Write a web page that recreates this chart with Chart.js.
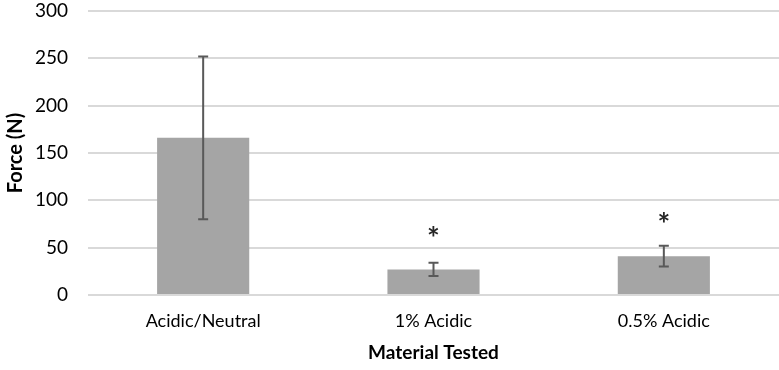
<!DOCTYPE html>
<html>
<head>
<meta charset="utf-8">
<script src="https://cdn.jsdelivr.net/npm/chart.js@4/dist/chart.umd.min.js"></script>
<style>
  html, body { margin: 0; padding: 0; background: #fff; }
  #wrap { width: 779px; height: 370px; }
</style>
</head>
<body>
<div id="wrap"><canvas id="forceChart"></canvas></div>
<script>
const categories = ["Acidic/Neutral", "1% Acidic", "0.5% Acidic"];
const forceMeans = [166, 27, 41];
const forceErrors = [86, 7, 11];
const starLabels = ["", "*", "*"];
const starHeights = [0, 66, 81];
const yTicks = [0, 50, 100, 150, 200, 250, 300];

const ctx = document.getElementById("forceChart").getContext("2d");
const fontFamily = "Lato, sans-serif";

// draw the error bars and the significance stars with the chart's own scales
const extrasPlugin = {
  id: "extras",
  afterDatasetsDraw(chart) {
    const x = chart.scales.x;
    const y = chart.scales.y;
    const c = chart.ctx;
    c.save();
    c.strokeStyle = "#595959";
    c.lineWidth = 2;
    forceMeans.forEach((mean, i) => {
      const cx = x.getPixelForValue(i);
      const top = y.getPixelForValue(mean + forceErrors[i]);
      const bottom = y.getPixelForValue(mean - forceErrors[i]);
      c.beginPath();
      c.moveTo(cx, top);
      c.lineTo(cx, bottom);
      c.moveTo(cx - 5, top);
      c.lineTo(cx + 5, top);
      c.moveTo(cx - 5, bottom);
      c.lineTo(cx + 5, bottom);
      c.stroke();
    });
    c.fillStyle = "#262626";
    c.font = "bold 30px " + fontFamily;
    c.textAlign = "center";
    c.textBaseline = "middle";
    starLabels.forEach((s, i) => {
      if (!s) return;
      c.fillText(s, x.getPixelForValue(i), y.getPixelForValue(starHeights[i]) + 7);
    });
    c.restore();
  },
};

const forceChart = new Chart(ctx, {
  type: "bar",
  data: {
    labels: categories,
    datasets: [
      {
        label: "Force",
        data: forceMeans,
        backgroundColor: "#a5a5a5",
        categoryPercentage: 1,
        barPercentage: 0.4,
      },
    ],
  },
  options: {
    responsive: true,
    maintainAspectRatio: false,
    animation: false,
    layout: { padding: 0 },
    plugins: {
      legend: { display: false },
      tooltip: { enabled: false },
    },
    scales: {
      x: {
        grid: { display: false, drawTicks: false },
        border: { display: false },
        afterFit: (axis) => {
          axis.height = 75;
        },
        ticks: {
          color: "#000",
          font: { family: fontFamily, size: 18 },
          padding: 15,
        },
        title: {
          display: true,
          text: "Material Tested",
          color: "#000",
          font: { family: fontFamily, size: 19, weight: "bold" },
          padding: { top: 0, bottom: 6 },
        },
      },
      y: {
        min: 0,
        max: 300,
        afterBuildTicks: (axis) => {
          axis.ticks = yTicks.map((v) => ({ value: v }));
        },
        afterFit: (axis) => {
          axis.width = 88;
          axis.paddingTop = 11;
        },
        grid: { color: "#d9d9d9", lineWidth: 2, drawTicks: false },
        border: { display: false },
        ticks: {
          color: "#000",
          font: { family: fontFamily, size: 19 },
          padding: 20,
        },
        title: {
          display: true,
          text: "Force (N)",
          color: "#000",
          font: { family: fontFamily, size: 20, weight: "bold" },
          padding: { top: 4, bottom: 0 },
        },
      },
    },
  },
  plugins: [extrasPlugin],
});
</script>
</body>
</html>
